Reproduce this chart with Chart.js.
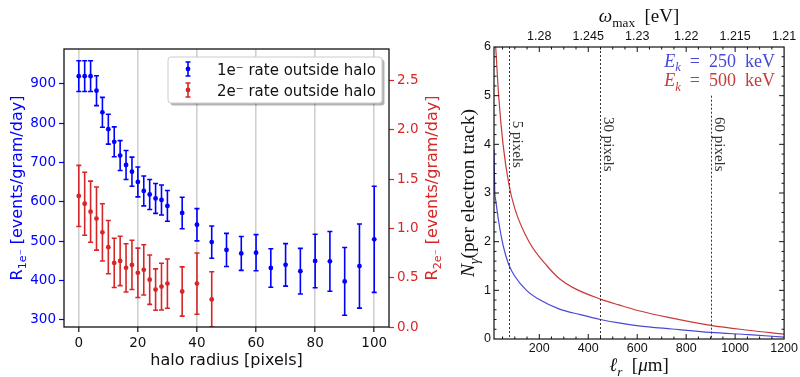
<!DOCTYPE html>
<html>
<head>
<meta charset="utf-8">
<script src="https://cdn.jsdelivr.net/npm/chart.js@4.4.1/dist/chart.umd.min.js"></script>
<style>
  body { margin: 0; background: #fff; }
  #wrap { position: relative; width: 800px; height: 377px; }
  #haloChart { position: absolute; left: 0; top: 0; }
  #photonChart { position: absolute; left: 450px; top: 0; }
</style>
</head>
<body>
<div id="wrap">
  <canvas id="haloChart" width="450" height="377"></canvas>
  <canvas id="photonChart" width="350" height="377"></canvas>
</div>
<script>
// Left panel: rates vs halo radius
const radius1e = [0, 2, 4, 6, 8, 10, 12, 14, 16, 18, 20, 22, 24, 26, 28, 30, 35, 40, 45, 50, 55, 60, 65, 70, 75, 80, 85, 90, 95, 100];
const rate1e = [920, 920, 920, 883, 828, 785, 753, 718, 694, 677, 651, 628, 619, 609, 605, 590, 572, 542, 498, 478, 469, 471, 432, 440, 424, 450, 449, 398, 437, 505];
const err1e = [39, 39, 39, 38, 38, 38, 38, 38, 37, 37, 38, 38, 38, 38, 38, 39, 40, 41, 41, 42, 43, 46, 49, 54, 58, 68, 76, 86, 107, 135];

const radius2e = [0, 2, 4, 6, 8, 10, 12, 14, 16, 18, 20, 22, 24, 26, 28, 30, 35, 40, 45];
const rate2e = [1.33, 1.25, 1.17, 1.10, 0.96, 0.81, 0.65, 0.67, 0.60, 0.63, 0.55, 0.58, 0.48, 0.38, 0.41, 0.44, 0.36, 0.44, 0.28];
const err2e = [0.31, 0.32, 0.31, 0.32, 0.29, 0.27, 0.25, 0.25, 0.245, 0.25, 0.25, 0.255, 0.25, 0.21, 0.237, 0.25, 0.25, 0.31, 0.28];

const haloTicks = [0, 20, 40, 60, 80, 100];
const rate1eTicks = [300, 400, 500, 600, 700, 800, 900];
const rate2eTicks = [0, 0.5, 1.0, 1.5, 2.0, 2.5];

// Right panel: photons per electron track vs l_r
const lr250 = [15, 18, 22, 34, 52, 75, 100, 148, 200, 280, 368, 450, 525, 606, 742, 900, 1054, 1200];
const n250 = [3.9, 3.05, 2.85, 2.42, 1.93, 1.53, 1.29, 1.0, 0.81, 0.62, 0.5, 0.40, 0.33, 0.27, 0.205, 0.135, 0.09, 0.04];
const lr500 = [22, 34, 52, 75, 100, 158, 232, 280, 348, 450, 525, 606, 742, 900, 1054, 1200];
const n500 = [6.0, 5.0, 4.0, 3.2, 2.68, 2.0, 1.5, 1.25, 1.03, 0.82, 0.70, 0.58, 0.43, 0.28, 0.18, 0.10];

const lrTicks = [200, 400, 600, 800, 1000, 1200];
const nTicks = [0, 1, 2, 3, 4, 5, 6];
const omegaLabels = ['1.28', '1.245', '1.23', '1.22', '1.215', '1.21'];

const pixelMarks = [5, 30, 60];
const umPerPixel = 15;
const markTop = [6, 6, 5.0];

const blue = '#0000ff';
const red = '#d62728';
const lineBlue = '#4848d4';
const lineRed = '#c83a3a';

const setTicks = list => s => { s.ticks = list.map(v => ({ value: v })); };

// draws text made of pieces (italic / subscript), y is the baseline
function drawRich(ctx, parts, x, y, opt) {
    ctx.save();
    ctx.translate(x, y);
    ctx.rotate(opt.rot || 0);
    ctx.fillStyle = opt.color;
    ctx.textBaseline = 'alphabetic';
    ctx.textAlign = 'left';
    const font = p => (p.it ? 'italic ' : '') + (p.sub ? opt.size * 0.7 : opt.size) + 'px ' + opt.family;
    let w = 0;
    parts.forEach(p => { ctx.font = font(p); w += ctx.measureText(p.t).width; });
    let cx = opt.align === 'right' ? -w : opt.align === 'left' ? 0 : -w / 2;
    parts.forEach(p => {
        ctx.font = font(p);
        ctx.fillText(p.t, cx, p.sub ? opt.size * 0.25 : 0);
        cx += ctx.measureText(p.t).width;
    });
    ctx.restore();
}

const errorBars = {
    id: 'errorBars',
    beforeDatasetsDraw(chart) {
        const { ctx, chartArea: a } = chart;
        ctx.save();
        ctx.beginPath();
        ctx.rect(a.left, a.top, a.width, a.height);
        ctx.clip();
        chart.data.datasets.forEach(ds => {
            const xs = chart.scales.x;
            const ys = chart.scales[ds.yAxisID];
            ctx.strokeStyle = ds.pointBackgroundColor;
            ctx.lineWidth = 1.6;
            ds.data.forEach((p, i) => {
                const px = xs.getPixelForValue(p.x);
                const top = ys.getPixelForValue(p.y + ds.errors[i]);
                const bot = ys.getPixelForValue(p.y - ds.errors[i]);
                ctx.beginPath();
                ctx.moveTo(px, top); ctx.lineTo(px, bot);
                ctx.moveTo(px - 2.5, top); ctx.lineTo(px + 2.5, top);
                ctx.moveTo(px - 2.5, bot); ctx.lineTo(px + 2.5, bot);
                ctx.stroke();
            });
        });
        ctx.restore();
    }
};

const haloDecor = {
    id: 'haloDecor',
    afterDraw(chart) {
        const { ctx, chartArea: a } = chart;
        ctx.save();
        // frame
        ctx.strokeStyle = '#111';
        ctx.lineWidth = 1.3;
        ctx.strokeRect(a.left, a.top, a.width, a.height);

        // legend box with shadow
        const bx = 168, by = 57, bw = 214, bh = 46;
        ctx.fillStyle = 'rgba(0,0,0,0.3)';
        ctx.beginPath();
        ctx.roundRect(bx + 2.5, by + 2.5, bw, bh, 3);
        ctx.fill();
        ctx.fillStyle = '#fff';
        ctx.strokeStyle = '#cccccc';
        ctx.lineWidth = 1;
        ctx.beginPath();
        ctx.roundRect(bx, by, bw, bh, 3);
        ctx.fill();
        ctx.stroke();

        const rows = [
            { c: blue, y: 69, t: '1e\u207B rate outside halo' },
            { c: red, y: 90, t: '2e\u207B rate outside halo' }
        ];
        rows.forEach(r => {
            ctx.strokeStyle = r.c;
            ctx.fillStyle = r.c;
            ctx.lineWidth = 1.6;
            ctx.beginPath();
            ctx.moveTo(188, r.y - 7); ctx.lineTo(188, r.y + 7);
            ctx.moveTo(185.5, r.y - 7); ctx.lineTo(190.5, r.y - 7);
            ctx.moveTo(185.5, r.y + 7); ctx.lineTo(190.5, r.y + 7);
            ctx.stroke();
            ctx.beginPath();
            ctx.arc(188, r.y, 2.4, 0, Math.PI * 2);
            ctx.fill();
            ctx.fillStyle = '#111';
            ctx.font = '15px "DejaVu Sans"';
            ctx.textBaseline = 'alphabetic';
            ctx.fillText(r.t, 217, r.y + 5.5);
        });
        ctx.restore();

        const midY = (a.top + a.bottom) / 2;
        drawRich(ctx, [{ t: 'halo radius [pixels]' }], (a.left + a.right) / 2, 365,
            { size: 16, family: '"DejaVu Sans"', color: '#111' });
        drawRich(ctx, [{ t: 'R' }, { t: '1e\u207B', sub: true }, { t: ' [events/gram/day]' }], 22, midY,
            { size: 16, family: '"DejaVu Sans"', color: blue, rot: -Math.PI / 2 });
        drawRich(ctx, [{ t: 'R' }, { t: '2e\u207B', sub: true }, { t: ' [events/gram/day]' }], 437, midY,
            { size: 16, family: '"DejaVu Sans"', color: red, rot: -Math.PI / 2 });
    }
};

const tickFont = { family: 'DejaVu Sans', size: 13.5 };

new Chart(document.getElementById('haloChart'), {
    type: 'scatter',
    data: {
        datasets: [
            {
                data: radius2e.map((r, i) => ({ x: r, y: rate2e[i] })),
                errors: err2e,
                yAxisID: 'y2',
                pointRadius: 2.4,
                pointBorderWidth: 0,
                pointBackgroundColor: red
            },
            {
                data: radius1e.map((r, i) => ({ x: r, y: rate1e[i] })),
                errors: err1e,
                yAxisID: 'y',
                pointRadius: 2.4,
                pointBorderWidth: 0,
                pointBackgroundColor: blue
            }
        ]
    },
    options: {
        responsive: false,
        animation: false,
        events: [],
        layout: { padding: { top: 49, left: 0, right: 0, bottom: 0 } },
        plugins: { legend: { display: false }, tooltip: { enabled: false } },
        scales: {
            x: {
                type: 'linear', min: -5, max: 105,
                afterBuildTicks: setTicks(haloTicks),
                ticks: { autoSkip: false, maxRotation: 0, color: '#111', font: tickFont, padding: 3 },
                grid: { color: '#d0d0d0', lineWidth: 1.6, tickColor: '#111', tickLength: 5, tickWidth: 1.2 },
                border: { display: false },
                afterFit: s => { s.height = 50; }
            },
            y: {
                position: 'left', min: 282, max: 989,
                afterBuildTicks: setTicks(rate1eTicks),
                ticks: { autoSkip: false, color: blue, font: tickFont, padding: 3 },
                grid: { drawOnChartArea: false, tickColor: blue, tickLength: 5, tickWidth: 1.2 },
                border: { display: false },
                afterFit: s => { s.width = 64; }
            },
            y2: {
                position: 'right', min: 0, max: 2.82,
                afterBuildTicks: setTicks(rate2eTicks),
                ticks: { autoSkip: false, color: red, font: tickFont, padding: 3, callback: v => v.toFixed(1) },
                grid: { drawOnChartArea: false, tickColor: red, tickLength: 5, tickWidth: 1.2 },
                border: { display: false },
                afterFit: s => { s.width = 61; }
            }
        }
    },
    plugins: [errorBars, haloDecor]
});

const photonDecor = {
    id: 'photonDecor',
    afterDraw(chart) {
        const { ctx, chartArea: a, scales } = chart;
        const xs = scales.x, ys = scales.y;
        ctx.save();

        // dashed lines for pixel sizes
        ctx.strokeStyle = '#333';
        ctx.lineWidth = 1;
        ctx.setLineDash([2, 2]);
        pixelMarks.forEach((p, i) => {
            const px = Math.round(xs.getPixelForValue(p * umPerPixel)) + 0.5;
            ctx.beginPath();
            ctx.moveTo(px, ys.getPixelForValue(markTop[i]));
            ctx.lineTo(px, a.bottom);
            ctx.stroke();
        });
        ctx.setLineDash([]);

        // frame with inward ticks
        ctx.strokeStyle = '#111';
        ctx.lineWidth = 1.2;
        ctx.strokeRect(a.left, a.top, a.width, a.height);
        ctx.lineWidth = 1;
        ctx.beginPath();
        for (let v = 50; v < 1200; v += 50) {
            const px = xs.getPixelForValue(v);
            const len = v % 200 === 0 ? 5 : 2.5;
            ctx.moveTo(px, a.bottom); ctx.lineTo(px, a.bottom - len);
            ctx.moveTo(px, a.top); ctx.lineTo(px, a.top + len);
        }
        for (let k = 1; k < 30; k++) {
            const py = ys.getPixelForValue(k * 0.2);
            const len = k % 5 === 0 ? 5 : 2.5;
            ctx.moveTo(a.left, py); ctx.lineTo(a.left + len, py);
            ctx.moveTo(a.right, py); ctx.lineTo(a.right - len, py);
        }
        ctx.stroke();
        ctx.restore();

        const serif = '"Liberation Serif", "DejaVu Serif", serif';
        pixelMarks.forEach((p, i) => {
            const px = xs.getPixelForValue(p * umPerPixel);
            drawRich(ctx, [{ t: p + ' pixels' }], px + 4, ys.getPixelForValue(4.0),
                { size: 15, family: serif, color: '#333', rot: Math.PI / 2 });
        });

        drawRich(ctx, [{ t: 'E', it: true }, { t: 'k', it: true, sub: true }, { t: '\u2002=\u2002250\u2002keV' }], 325, 66.5,
            { size: 18, family: serif, color: lineBlue, align: 'right' });
        drawRich(ctx, [{ t: 'E', it: true }, { t: 'k', it: true, sub: true }, { t: '\u2002=\u2002500\u2002keV' }], 325, 86,
            { size: 18, family: serif, color: lineRed, align: 'right' });

        const midX = (a.left + a.right) / 2;
        drawRich(ctx, [{ t: '\u03C9', it: true }, { t: 'max', sub: true }, { t: '\u2002[eV]' }], midX, 22,
            { size: 19, family: serif, color: '#111' });
        drawRich(ctx, [{ t: '\u2113', it: true }, { t: 'r', it: true, sub: true }, { t: '\u2002[' }, { t: '\u03BC', it: true }, { t: 'm]' }], midX, 371,
            { size: 19, family: serif, color: '#111' });
        drawRich(ctx, [{ t: 'N', it: true }, { t: '\u03B3', it: true, sub: true }, { t: '(per electron track)' }], 24, (a.top + a.bottom) / 2,
            { size: 19.5, family: serif, color: '#111', rot: -Math.PI / 2 });
    }
};

const smallTick = { family: 'Liberation Sans', size: 12.5 };

new Chart(document.getElementById('photonChart'), {
    type: 'line',
    data: {
        datasets: [
            {
                data: lr250.map((l, i) => ({ x: l, y: n250[i] })),
                borderColor: lineBlue,
                borderWidth: 1.2,
                pointRadius: 0,
                cubicInterpolationMode: 'monotone'
            },
            {
                data: lr500.map((l, i) => ({ x: l, y: n500[i] })),
                borderColor: lineRed,
                borderWidth: 1.2,
                pointRadius: 0,
                cubicInterpolationMode: 'monotone'
            }
        ]
    },
    options: {
        responsive: false,
        animation: false,
        events: [],
        layout: { padding: { top: 0, left: 0, right: 14, bottom: 0 } },
        plugins: { legend: { display: false }, tooltip: { enabled: false } },
        scales: {
            x: {
                type: 'linear', position: 'bottom', min: 15, max: 1200,
                afterBuildTicks: setTicks(lrTicks),
                ticks: { autoSkip: false, maxRotation: 0, color: '#111', font: smallTick, padding: 2, callback: v => String(v) },
                grid: { display: false, drawTicks: false },
                border: { display: false },
                afterFit: s => { s.height = 38; }
            },
            xTop: {
                type: 'linear', axis: 'x', position: 'top', min: 15, max: 1200,
                afterBuildTicks: setTicks(lrTicks),
                ticks: {
                    autoSkip: false, maxRotation: 0, color: '#111', font: smallTick, padding: 3,
                    callback: v => { const i = lrTicks.indexOf(v); return i >= 0 ? omegaLabels[i] : ''; }
                },
                grid: { display: false, drawTicks: false },
                border: { display: false },
                afterFit: s => { s.height = 47; }
            },
            y: {
                min: 0, max: 6,
                afterBuildTicks: setTicks(nTicks),
                ticks: { autoSkip: false, color: '#111', font: smallTick, padding: 3 },
                grid: { display: false, drawTicks: false },
                border: { display: false },
                afterFit: s => { s.width = 44; }
            }
        }
    },
    plugins: [photonDecor]
});
</script>
</body>
</html>
